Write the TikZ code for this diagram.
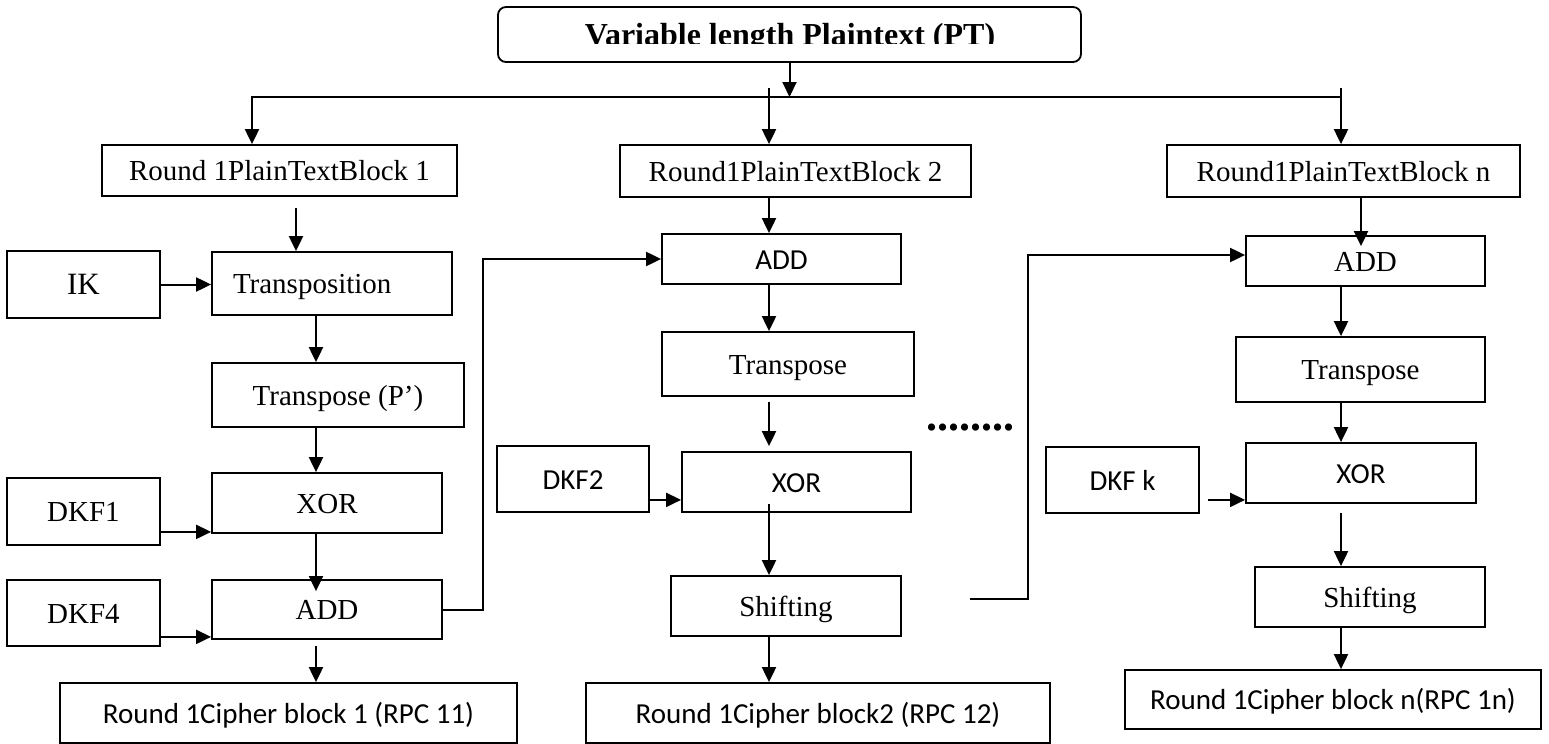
\documentclass[tikz,border=0pt]{standalone}
\usepackage{fontspec}
\setmainfont{Liberation Serif}
\newfontfamily\calibri{Carlito}
\usetikzlibrary{arrows.meta}

\begin{document}
\begin{tikzpicture}[x=.5pt,y=-.5pt,>={Triangle[length=7.5pt,width=7pt]},
	line width=1pt,
	every node/.style={font=\fontsize{14.5}{17}\selectfont},
	blk/.style={draw,line width=.9pt,inner sep=0pt,text height=12pt,text depth=1.8pt},
	cal/.style={font=\calibri\fontsize{14.5}{17}\selectfont},
	wh/.style 2 args={minimum width=#1*.5pt,minimum height=#2*.5pt}]
	\useasboundingbox (0,0) rectangle (1549,744);
	% plaintext source
	\node[blk,wh={583}{55},rounded corners=4pt] (pt) at (789.5,34.5) {};
	\begin{scope}
		\clip (pt.north west) rectangle ([yshift=-4.25pt]pt.east);
		\node[anchor=base,font=\bfseries\fontsize{16}{19}\selectfont] (ptlbl) at (790,46) {Variable length Plaintext (PT)};
	\end{scope}
	\node[blk,wh={355}{51}] (r1) at (279.5,170.5) {Round 1PlainTextBlock 1};
	\node[blk,wh={351}{52}] (r2) at (795.5,171) {Round1PlainTextBlock 2};
	\node[blk,wh={353}{52}] (rn) at (1343.5,171) {Round1PlainTextBlock n};
	% block 1
	\node[blk,wh={153}{67},font=\fontsize{15.5}{18}\selectfont] (ik) at (83.5,284.5) {IK};
	\node[blk,wh={240}{63},text width=99pt,align=left,inner xsep=10.5pt] (tp) at (332,283.5) {Transposition};
	\node[blk,wh={252}{64}] (tpp) at (338,395) {Transpose (P’)};
	\node[blk,wh={153}{67}] (dkf1) at (83.5,511.5) {DKF1};
	\node[blk,wh={230}{60}] (xor1) at (327,503) {XOR};
	\node[blk,wh={153}{66}] (dkf4) at (83.5,613) {DKF4};
	\node[blk,wh={230}{59}] (add1) at (327,609.5) {ADD};
	\node[blk,cal,wh={457}{60}] (c1) at (288.5,713) {Round 1Cipher block 1 (RPC 11)};
	% block 2
	\node[blk,cal,wh={239}{50}] (add2) at (781.5,259) {ADD};
	\node[blk,wh={252}{64}] (tr2) at (788,364) {Transpose};
	\node[blk,cal,wh={152}{66}] (dkf2) at (573,479) {DKF2};
	\node[blk,cal,wh={229}{60}] (xor2) at (796.5,482) {XOR};
	\node[blk,wh={230}{60}] (sh2) at (786,606) {Shifting};
	\node[blk,cal,wh={464}{60}] (c2) at (818,713) {Round 1Cipher block2 (RPC 12)};
	% block n
	\node[blk,wh={239}{50}] (add3) at (1365.5,261) {ADD};
	\node[blk,wh={249}{65}] (tr3) at (1360.5,369.5) {Transpose};
	\node[blk,cal,wh={153}{66}] (dkfk) at (1122.5,480) {DKF k};
	\node[blk,cal,wh={230}{60}] (xor3) at (1361,473) {XOR};
	\node[blk,wh={230}{60}] (sh3) at (1370,597) {Shifting};
	\node[blk,cal,wh={416}{59}] (cn) at (1333,699.5) {Round 1Cipher block n(RPC 1n)};
	\node[anchor=base,font=\bfseries\fontsize{22}{24}\selectfont] (dots) at (970,430) {........};
	% split bus
	\coordinate (busL) at (252,97);
	\coordinate (busM) at (769,88);
	\coordinate (busR) at (1341,88);
	\draw[->] (pt.south) -- (pt.south |- busL);
	\draw[->] (busL -| busR) -- (busL) -- (busL |- r1.north);
	\draw[->] (busM) -- (busM |- r2.north);
	\draw[->] (busR) -- (busR |- rn.north);
	% column lines
	\coordinate (x1a) at (296,0);
	\coordinate (x1b) at (316,0);
	\coordinate (x2) at (769,0);
	\coordinate (x3a) at (1361,0);
	\coordinate (x3b) at (1341,0);
	\foreach \a/\b/\c/\p/\q in {r1/tp/x1a/5.5/0,tp/tpp/x1b/0/0,tpp/xor1/x1b/0/0,
		xor1/add1/x1b/0/-6,add1/c1/x1b/3/0,r2/add2/x2/0/0,add2/tr2/x2/0/0,
		tr2/xor2/x2/2.5/2.5,xor2/sh2/x2/-4.5/0,sh2/c2/x2/0/0,rn/add3/x3a/0/-5.5,
		add3/tr3/x3b/0/0,tr3/xor3/x3b/0/0,xor3/sh3/x3b/4.5/0,sh3/cn/x3b/0/0}
	{\draw[->,shorten <=\p pt,shorten >=\q pt] (\a.south -| \c) -- (\b.north -| \c);}
	% keys in
	\draw[->] (ik.east) -- (ik.east -| tp.west);
	\draw[->] ([yshift=7pt]dkf1.south east) -- ([yshift=7pt]dkf1.south east -| xor1.west);
	\draw[->] ([yshift=5pt]dkf4.south east) -- ([yshift=5pt]dkf4.south east -| add1.west);
	\draw[->] ([yshift=6.5pt]dkf2.south east) -- ([yshift=6.5pt]dkf2.south east -| xor2.west);
	\draw[->,shorten <=4pt] ([yshift=7pt]dkfk.south east) -- ([yshift=7pt]dkfk.south east -| xor3.west);
	% links between blocks
	\coordinate (link1) at (483,0);
	\coordinate (link2) at (1028,0);
	\coordinate (link2s) at (970,599);
	\draw[->] (add1.east) -- (add1.east -| link1) |- (add2.west);
	\draw[->] (link2s) -- (link2s -| link2) |- ([yshift=3pt]add3.west);
\end{tikzpicture}
\end{document}
